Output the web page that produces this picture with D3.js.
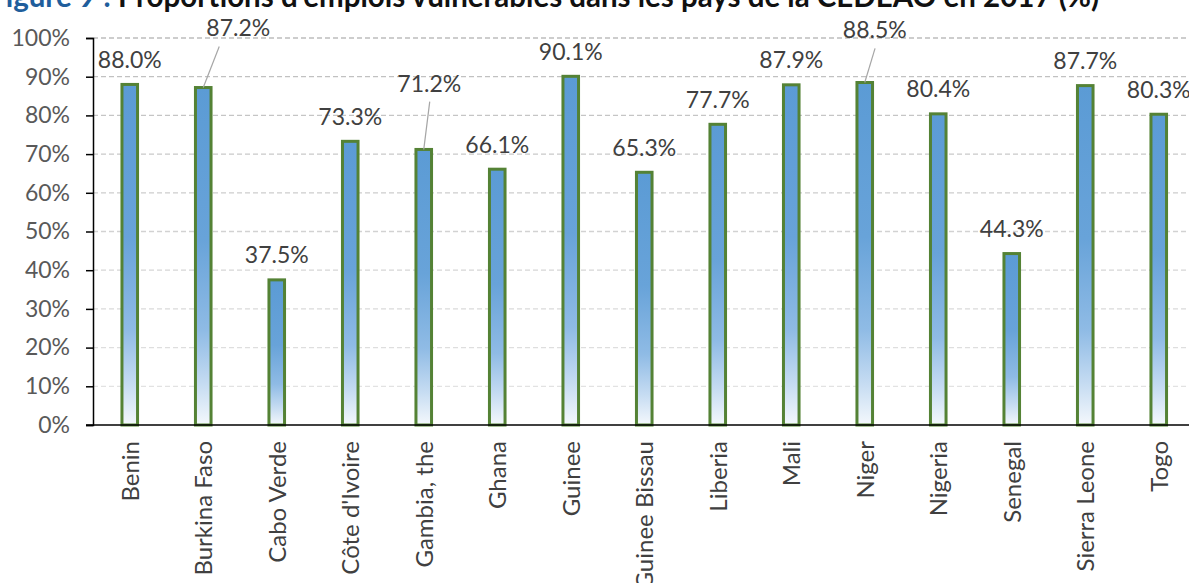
<!DOCTYPE html>
<html>
<head>
<meta charset="utf-8">
<script src="https://cdn.jsdelivr.net/npm/d3@7"></script>
<style>
  html, body { margin: 0; padding: 0; background: #fff; overflow: hidden; }
  svg { display: block; font-family: Lato, "Open Sans", sans-serif; }
</style>
</head>
<body>
<svg id="chart" width="1189" height="583"></svg>
<script>
// Share of vulnerable employment, ECOWAS countries, 2017 (%)
const countries = ["Benin", "Burkina Faso", "Cabo Verde", "Côte d'Ivoire", "Gambia, the",
  "Ghana", "Guinee", "Guinee Bissau", "Liberia", "Mali", "Niger", "Nigeria",
  "Senegal", "Sierra Leone", "Togo"];
const values = [88.0, 87.2, 37.5, 73.3, 71.2, 66.1, 90.1, 65.3, 77.7, 87.9, 88.5, 80.4, 44.3, 87.7, 80.3];
const yTicks = [0, 10, 20, 30, 40, 50, 60, 70, 80, 90, 100];
const titleLead = "Figure 9 : ";
const titleRest = "Proportions d'emplois vulnérables dans les pays de la CEDEAO en 2017 (%)";

// Labels moved away from their bar, joined back to it by a leader line (pixel offsets)
const callouts = {
  "Burkina Faso": { dx: 35, dy: -51.5, lx: -19, ly: 10.5 },
  "Gambia, the":  { dx: 5.5, dy: -57.8, lx: 0.5, ly: 10 },
  "Niger":        { dx: 10, dy: -44.2, lx: 0.3, ly: 10 }
};

const svg = d3.select("#chart");
const plotLeft = 93, plotRight = 1195.5, plotTop = 38, plotBottom = 425;

const x = d3.scaleBand().domain(countries).range([plotLeft, plotRight])
  .paddingInner(0.788).paddingOuter(0.394);
const y = d3.scaleLinear().domain([0, 100]).range([plotBottom, plotTop]);

// Bar fill: solid blue at the top fading to white at the base
const defs = svg.append("defs");
const grad = defs.append("linearGradient").attr("id", "barFill")
  .attr("x1", 0).attr("y1", 0).attr("x2", 0).attr("y2", 1);
[[0, "#5B9BD5"], [0.45, "#68A3D9"], [0.72, "#8FBBE5"], [0.88, "#C6DCF2"], [1, "#F4F8FC"]]
  .forEach(([o, c]) => grad.append("stop").attr("offset", o).attr("stop-color", c));

// Title (sits partly above the top edge)
const title = svg.append("text").attr("x", -11).attr("y", 7)
  .attr("font-size", 29.5).attr("font-weight", 700);
title.append("tspan").attr("fill", "#1F5E9C").text(titleLead);
title.append("tspan").attr("fill", "#111").text(titleRest);

// Dashed gridlines
const gridColor = d3.scaleLinear().domain([0, 100]).range(["#e6e6e6", "#bdbdbd"]);
svg.append("g").selectAll("line").data(yTicks.filter(t => t > 0)).join("line")
  .attr("x1", plotLeft).attr("x2", 1189)
  .attr("y1", d => y(d)).attr("y2", d => y(d))
  .attr("stroke", d => gridColor(d)).attr("stroke-width", 1.3)
  .attr("stroke-dasharray", "5,3");

// Y axis
const yAxis = svg.append("g").attr("transform", `translate(${plotLeft},0)`)
  .call(d3.axisLeft(y).tickValues(yTicks).tickFormat(d => d + "%").tickSize(7).tickPadding(16));
yAxis.select(".domain").attr("stroke", "#000").attr("stroke-width", 1.5);
yAxis.selectAll(".tick line").attr("stroke", "#000").attr("stroke-width", 1.5);
yAxis.selectAll(".tick text").attr("fill", "#595959").attr("font-size", 23)
  .attr("font-family", "Lato, sans-serif");

// Bars
svg.append("g").selectAll("rect").data(countries).join("rect")
  .attr("x", d => x(d))
  .attr("width", x.bandwidth())
  .attr("y", (d, i) => y(values[i]))
  .attr("height", (d, i) => y(0) - y(values[i]))
  .attr("fill", "url(#barFill)")
  .attr("stroke", "#548235").attr("stroke-width", 3);

// X axis line
svg.append("line").attr("x1", plotLeft - 7).attr("x2", 1189)
  .attr("y1", plotBottom).attr("y2", plotBottom)
  .attr("stroke", "#000").attr("stroke-width", 1.5);

// Category labels (vertical)
svg.append("g").selectAll("text").data(countries).join("text")
  .attr("transform", d => `translate(${x(d) + x.bandwidth() / 2 + 9},441) rotate(-90)`)
  .attr("text-anchor", "end")
  .attr("fill", "#404040").attr("font-size", 24)
  .text(d => d);

// Value labels and leader lines
const labels = svg.append("g");
countries.forEach((c, i) => {
  const cx = x(c) + x.bandwidth() / 2;
  const barTop = y(values[i]);
  const co = callouts[c];
  const lx = cx + (co ? co.dx : 0);
  const ly = barTop + (co ? co.dy : -16.5);
  if (co) {
    labels.append("line")
      .attr("x1", lx + co.lx).attr("y1", ly + co.ly)
      .attr("x2", cx).attr("y2", barTop)
      .attr("stroke", "#a6a6a6").attr("stroke-width", 1.2);
  }
  labels.append("text")
    .attr("x", lx).attr("y", ly)
    .attr("text-anchor", "middle")
    .attr("fill", "#404040").attr("font-size", 23)
    .text(values[i].toFixed(1) + "%");
});
</script>
</body>
</html>
